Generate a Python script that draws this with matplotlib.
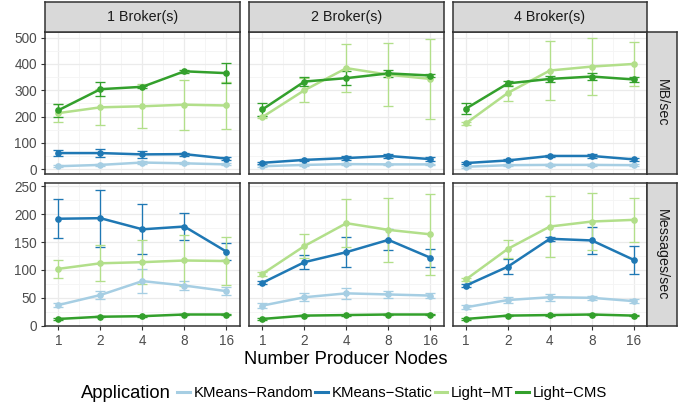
import matplotlib
matplotlib.use("Agg")
import matplotlib.pyplot as plt
from matplotlib.lines import Line2D
from matplotlib.ticker import MultipleLocator, FixedLocator

plt.rcParams['font.family'] = ['Liberation Sans', 'DejaVu Sans']

# ---------------- data ----------------
producers = [1, 2, 4, 8, 16]
brokers = ["1 Broker(s)", "2 Broker(s)", "4 Broker(s)"]
metrics = ["MB/sec", "Messages/sec"]
apps = ["KMeans\u2212Random", "KMeans\u2212Static", "Light\u2212MT", "Light\u2212CMS"]
colors = ["#A6CEE3", "#1F78B4", "#B2DF8A", "#33A02C"]

# MB/sec : one row per broker count
mb_kmeans_random = [[11, 16, 25, 22, 18], [11, 16, 19, 18, 18], [9, 15, 16, 16, 15]]
mb_kmeans_random_err = [[3, 3, 4, 4, 4], [3, 3, 3, 3, 3], [3, 3, 3, 3, 3]]
mb_kmeans_static = [[61, 61, 56, 57, 40], [24, 35, 42, 50, 38], [23, 33, 50, 50, 37]]
mb_kmeans_static_err = [[11, 16, 12, 6, 5], [4, 5, 8, 6, 7], [3, 4, 4, 6, 7]]
mb_light_mt = [[213, 235, 239, 245, 242], [198, 300, 384, 359, 343], [174, 290, 375, 390, 400]]
mb_light_mt_err = [[33, 68, 84, 95, 88], [5, 46, 92, 120, 152], [5, 30, 114, 108, 84]]
mb_light_cms = [[224, 304, 313, 372, 365], [227, 333, 346, 364, 356], [230, 326, 343, 352, 341]]
mb_light_cms_err = [[24, 26, 4, 5, 38], [24, 18, 28, 12, 5], [22, 10, 13, 12, 8]]

# Messages/sec
msg_kmeans_random = [[37, 55, 80, 72, 62], [36, 51, 58, 56, 54], [33, 46, 51, 50, 44]]
msg_kmeans_random_err = [[3, 8, 21, 8, 7], [5, 7, 10, 6, 4], [4, 6, 6, 4, 3]]
msg_kmeans_static = [[192, 193, 173, 178, 133], [77, 114, 132, 154, 122], [72, 106, 156, 153, 118]]
msg_kmeans_static_err = [[35, 51, 45, 25, 15], [3, 13, 27, 19, 16], [3, 14, 4, 24, 25]]
msg_light_mt = [[102, 112, 114, 117, 116], [93, 143, 184, 172, 164], [83, 138, 178, 187, 190]]
msg_light_mt_err = [[16, 32, 40, 45, 43], [3, 22, 43, 57, 73], [3, 16, 55, 51, 40]]
msg_light_cms = [[12, 16, 17, 20, 20], [12, 18, 19, 20, 20], [12, 18, 19, 20, 18]]
msg_light_cms_err = [[1, 1, 1, 1, 1], [1, 1, 1, 1, 1], [1, 1, 1, 1, 1]]

series = {
    "MB/sec": [(mb_kmeans_random, mb_kmeans_random_err), (mb_kmeans_static, mb_kmeans_static_err),
               (mb_light_mt, mb_light_mt_err), (mb_light_cms, mb_light_cms_err)],
    "Messages/sec": [(msg_kmeans_random, msg_kmeans_random_err), (msg_kmeans_static, msg_kmeans_static_err),
                     (msg_light_mt, msg_light_mt_err), (msg_light_cms, msg_light_cms_err)],
}
y_major = {"MB/sec": 100, "Messages/sec": 50}

# ---------------- layout (pixels) ----------------
W, H = 689, 409
fig = plt.figure(figsize=(W / 100, H / 100), dpi=100)
fig.patch.set_facecolor("white")

col_x = [45, 249, 452.5]
col_w = 194.8
row_y = [(31.7, 174.0), (183.3, 326.0)]
strip_top = 2.3
strip_right = 676.7

def fr(x0, y0, x1, y1):
    return [x0 / W, 1 - y1 / H, (x1 - x0) / W, (y1 - y0) / H]

BORDER = "#333333"
TICKC = "#4D4D4D"
xs = list(range(len(producers)))

for r, metric in enumerate(metrics):
    data = series[metric]
    lo = min(min(m - e for m, e in zip(mr, er)) for s, se in data for mr, er in zip(s, se))
    hi = max(max(m + e for m, e in zip(mr, er)) for s, se in data for mr, er in zip(s, se))
    pad = 0.05 * (hi - lo)
    for c, broker in enumerate(brokers):
        y0, y1 = row_y[r]
        ax = fig.add_axes(fr(col_x[c], y0, col_x[c] + col_w, y1))
        ax.set_facecolor("white")
        ax.set_xlim(-0.32, len(producers) - 1 + 0.32)
        ax.set_ylim(lo - pad, hi + pad)
        step = y_major[metric]
        ax.yaxis.set_major_locator(MultipleLocator(step))
        ax.yaxis.set_minor_locator(MultipleLocator(step / 2))
        ax.xaxis.set_major_locator(FixedLocator(xs))
        ax.xaxis.set_minor_locator(FixedLocator([i + 0.5 for i in xs[:-1]]))
        ax.grid(which="major", color="#EBEBEB", lw=0.9, zorder=0)
        ax.grid(which="minor", color="#F4F4F4", lw=0.6, zorder=0)
        ax.set_axisbelow(True)
        for sp in ax.spines.values():
            sp.set_color(BORDER)
            sp.set_linewidth(1.1)
        ax.tick_params(which="major", length=2.8, width=0.8, color=BORDER,
                       labelsize=9.8, labelcolor=TICKC, pad=3.0)
        ax.tick_params(which="minor", length=0)
        if r == len(metrics) - 1:
            ax.set_xticklabels([str(p) for p in producers])
        else:
            ax.tick_params(axis="x", which="major", labelbottom=False, length=0)
        if c != 0:
            ax.tick_params(axis="y", which="major", labelleft=False, length=0)
        # error bars first
        for (s, se), col in zip(data, colors):
            ax.errorbar(xs, s[c], yerr=se[c], fmt="none", ecolor=col, elinewidth=0.95,
                        capsize=3.5, capthick=0.95, zorder=2)
        for (s, se), col in zip(data, colors):
            ax.plot(xs, s[c], "-", color=col, lw=1.8, zorder=3)
            ax.plot(xs, s[c], "o", color=col, ms=3.8, mec=col, zorder=4)

        # top strips
        if r == 0:
            sax = fig.add_axes(fr(col_x[c], strip_top, col_x[c] + col_w, row_y[0][0]))
            sax.set_facecolor("#D9D9D9")
            sax.set_xticks([]); sax.set_yticks([])
            for sp in sax.spines.values():
                sp.set_color(BORDER); sp.set_linewidth(1.1)
            sax.text(0.5, 0.5, broker, ha="center", va="center", fontsize=10.3,
                     color="#1A1A1A", transform=sax.transAxes)
    # right strips
    y0, y1 = row_y[r]
    rax = fig.add_axes(fr(col_x[2] + col_w, y0, strip_right, y1))
    rax.set_facecolor("#D9D9D9")
    rax.set_xticks([]); rax.set_yticks([])
    for sp in rax.spines.values():
        sp.set_color(BORDER); sp.set_linewidth(1.1)
    rax.text(0.5, 0.5, metric, ha="center", va="center", rotation=-90, fontsize=10.3,
             color="#1A1A1A", transform=rax.transAxes)

# axis title
fig.text(346 / W, 1 - 360 / H, "Number Producer Nodes", ha="center", va="center",
         fontsize=13.2, color="black")

# legend
fig.text(81 / W, 1 - 393 / H, "Application", ha="left", va="center", fontsize=13.2, color="black")
handles = [Line2D([], [], color=col, lw=2.2) for col in colors]
fig.legend(handles, apps, loc="center left", bbox_to_anchor=(177 / W, 1 - 393 / H),
           ncol=4, frameon=False, fontsize=10.7, handlelength=0.85, handletextpad=0.25,
           columnspacing=0.15, borderpad=0, borderaxespad=0)

fig.savefig("out.png", dpi=100, facecolor="white")
